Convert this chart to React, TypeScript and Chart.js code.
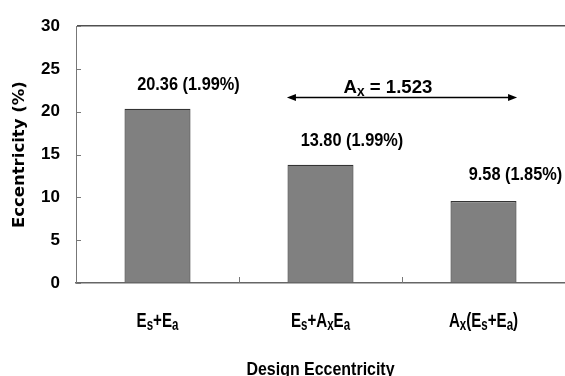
import React, { useEffect, useRef } from "react";
import { Chart, registerables } from "chart.js";

Chart.register(...registerables);

// ---- data ----
const categories = ["E_{s}+E_{a}", "E_{s}+A_{x}E_{a}", "A_{x}(E_{s}+E_{a})"];
const values = [20.36, 13.8, 9.58];
const ratios = ["1.99%", "1.99%", "1.85%"];
const yTicks = [0, 5, 10, 15, 20, 25, 30];
const axisTitleY = "Eccentricity (%)";
const axisTitleX = "Design Eccentricity";
const ampText = "A_{x} = 1.523";
// annotation anchors (category index, value)
const valueLabelX = [0.19, 1.193, 2.196];
const valueLabelY = [22.6, 16.0, 12.0];
const ampLabelAt = [1.414, 22.2];
const arrowFrom = [0.794, 21.7];
const arrowTo = [2.206, 21.7];

const SANS = '"Liberation Sans", Arial, sans-serif';

type Seg = { t: string; sub: boolean };
function parse(s: string): Seg[] {
  const out: Seg[] = [];
  const re = /_\{([^}]*)\}|([^_]+)/g;
  let m: RegExpExecArray | null;
  while ((m = re.exec(s))) {
    if (m[1] !== undefined) out.push({ t: m[1], sub: true });
    else out.push({ t: m[2], sub: false });
  }
  return out;
}

function drawRich(
  ctx: CanvasRenderingContext2D,
  s: string,
  cx: number,
  baseline: number,
  size: number,
  subSize: number,
  subDrop: number,
  sx: number
) {
  const segs = parse(s);
  const mainFont = `bold ${size}px ${SANS}`;
  const subFont = `bold ${subSize}px ${SANS}`;
  let total = 0;
  const widths = segs.map((g) => {
    ctx.font = g.sub ? subFont : mainFont;
    const w = ctx.measureText(g.t).width;
    total += w;
    return w;
  });
  ctx.save();
  ctx.translate(cx, baseline);
  ctx.scale(sx, 1);
  let x = -total / 2;
  ctx.textAlign = "left";
  ctx.textBaseline = "alphabetic";
  segs.forEach((g, i) => {
    ctx.font = g.sub ? subFont : mainFont;
    ctx.fillText(g.t, x, g.sub ? subDrop : 0);
    x += widths[i];
  });
  ctx.restore();
}

const decorPlugin = {
  id: "decor",
  afterDraw(chart: any) {
    const { ctx, chartArea } = chart;
    const xs = chart.scales.x;
    const ys = chart.scales.y;
    ctx.save();
    // inside ticks on y axis
    ctx.strokeStyle = "#777777";
    ctx.lineWidth = 1;
    ys.ticks.forEach((t: any) => {
      const py = Math.round(ys.getPixelForValue(t.value)) + 0.5;
      ctx.beginPath();
      ctx.moveTo(chartArea.left, py);
      ctx.lineTo(chartArea.left + 5, py);
      ctx.stroke();
    });
    // inside ticks on x axis between categories
    for (let i = 0; i < categories.length - 1; i++) {
      const px = Math.round((xs.getPixelForValue(i) + xs.getPixelForValue(i + 1)) / 2) + 0.5;
      ctx.beginPath();
      ctx.moveTo(px, chartArea.bottom);
      ctx.lineTo(px, chartArea.bottom - 6);
      ctx.stroke();
    }
    ctx.fillStyle = "#000000";
    // category labels
    categories.forEach((c, i) => {
      drawRich(ctx, c, xs.getPixelForValue(i), chartArea.bottom + 44, 21, 16, 3, 0.72);
    });
    // x axis title
    drawRich(ctx, axisTitleX, (chartArea.left + chartArea.right) / 2, chartArea.bottom + 92, 19, 19, 0, 0.84);
    // value labels
    values.forEach((v, i) => {
      const px = xs.getPixelForValue(valueLabelX[i]);
      const py = ys.getPixelForValue(valueLabelY[i]);
      drawRich(ctx, `${v.toFixed(2)} (${ratios[i]})`, px, py, 19, 19, 0, 0.86);
    });
    // amplification text
    drawRich(ctx, ampText, xs.getPixelForValue(ampLabelAt[0]), ys.getPixelForValue(ampLabelAt[1]), 19, 14, 3, 0.98);
    // arrow
    const x1 = xs.getPixelForValue(arrowFrom[0]);
    const x2 = xs.getPixelForValue(arrowTo[0]);
    const ay = Math.round(ys.getPixelForValue(arrowFrom[1])) + 0.5;
    ctx.strokeStyle = "#000000";
    ctx.lineWidth = 1.5;
    ctx.beginPath();
    ctx.moveTo(x1 + 6, ay);
    ctx.lineTo(x2 - 6, ay);
    ctx.stroke();
    ctx.beginPath();
    ctx.moveTo(x1, ay);
    ctx.lineTo(x1 + 9, ay - 3.5);
    ctx.lineTo(x1 + 9, ay + 3.5);
    ctx.closePath();
    ctx.fill();
    ctx.beginPath();
    ctx.moveTo(x2, ay);
    ctx.lineTo(x2 - 9, ay - 3.5);
    ctx.lineTo(x2 - 9, ay + 3.5);
    ctx.closePath();
    ctx.fill();
    ctx.restore();
  },
};

export default function App() {
  const ref = useRef<HTMLCanvasElement | null>(null);
  useEffect(() => {
    if (!ref.current) return;
    const chart = new Chart(ref.current, {
      type: "bar",
      data: {
        labels: categories,
        datasets: [
          {
            data: values,
            backgroundColor: "#808080",
            borderColor: "#333333",
            borderWidth: 1.2,
            categoryPercentage: 1,
            barPercentage: 0.405,
          },
        ],
      },
      options: {
        responsive: false,
        animation: false,
        devicePixelRatio: 1,
        layout: { padding: { top: 15, right: 0, bottom: 0, left: 0 } },
        plugins: { legend: { display: false }, tooltip: { enabled: false } },
        scales: {
          x: {
            ticks: { display: false },
            grid: { display: false },
            border: { display: true, color: "#666666", width: 1.5 },
            title: { display: false },
            afterFit(scale: any) {
              scale.height = 93;
            },
          },
          y: {
            min: 0,
            max: 30,
            afterBuildTicks(scale: any) {
              scale.ticks = yTicks.map((v) => ({ value: v }));
            },
            ticks: {
              color: "#000000",
              padding: 16,
              font: { family: SANS, size: 17, weight: "bold" },
            },
            grid: {
              drawTicks: false,
              color: (c: any) => (c.tick && c.tick.value === 30 ? "#505050" : "rgba(0,0,0,0)"),
              lineWidth: 1.5,
            },
            border: { display: true, color: "#777777", width: 1 },
            title: {
              display: true,
              text: axisTitleY,
              color: "#000000",
              font: { family: '"DejaVu Sans", sans-serif', size: 16.5, weight: "bold", lineHeight: 1.2 },
              padding: { top: 10, bottom: 0 },
            },
            afterFit(scale: any) {
              scale.width = 76;
            },
          },
        },
      },
      plugins: [decorPlugin],
    } as any);
    return () => chart.destroy();
  }, []);
  return (
    <div style={{ position: "absolute", left: 0, top: 0, width: 565, height: 376, background: "#ffffff" }}>
      <canvas ref={ref} width={565} height={376} />
    </div>
  );
}
